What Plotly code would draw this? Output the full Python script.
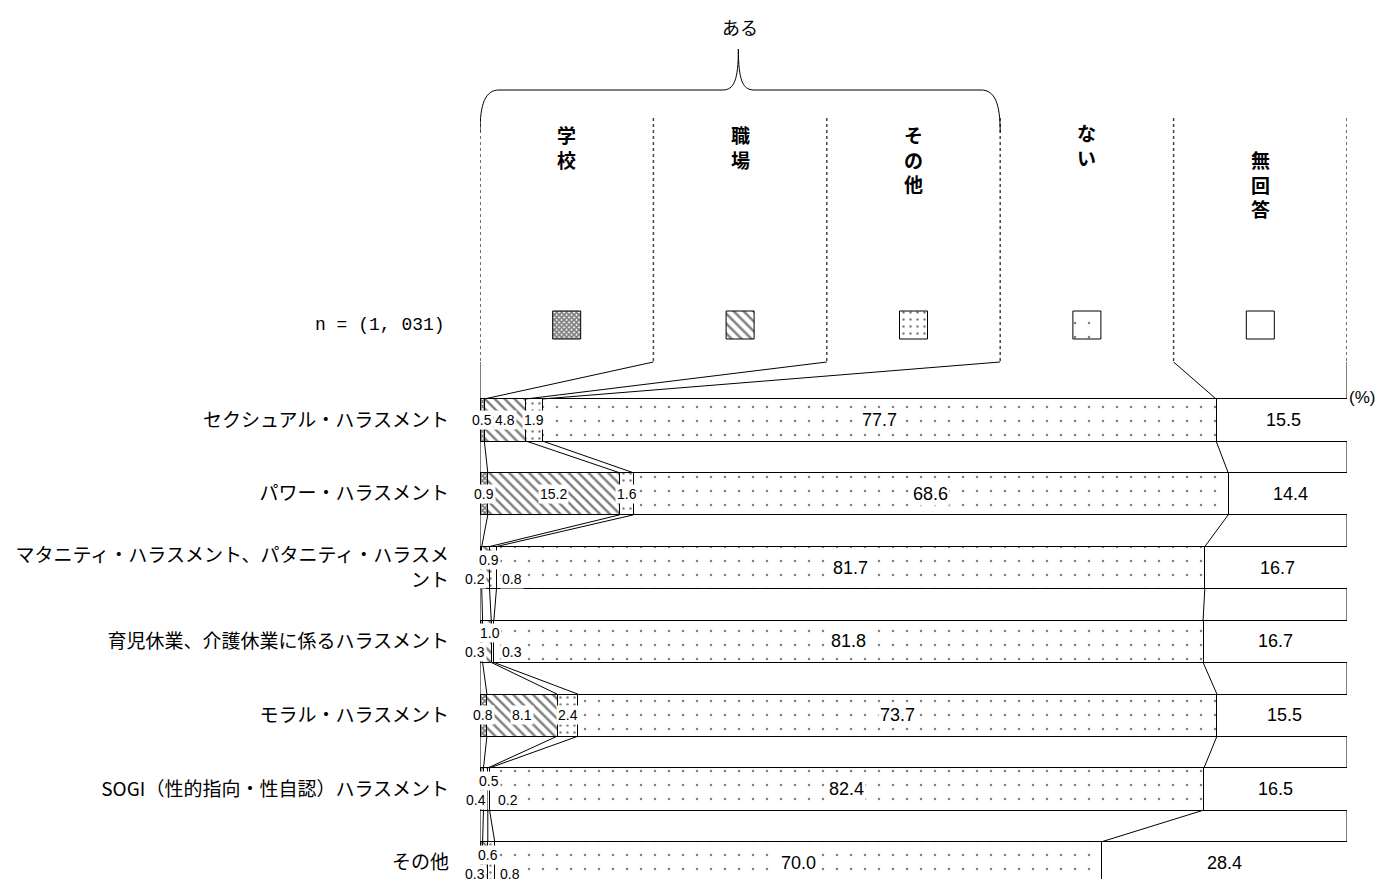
import plotly.graph_objects as go

# --- data ---
categories = [
    "セクシュアル・ハラスメント",
    "パワー・ハラスメント",
    "マタニティ・ハラスメント、パタニティ・ハラスメ<br>ント",
    "育児休業、介護休業に係るハラスメント",
    "モラル・ハラスメント",
    "SOGI（性的指向・性自認）ハラスメント",
    "その他",
]
series_names = ["学校", "職場", "その他", "ない", "無回答"]
school = [0.5, 0.9, 0.2, 0.3, 0.8, 0.4, 0.3]
workplace = [4.8, 15.2, 0.9, 1.0, 8.1, 0.5, 0.6]
other_place = [1.9, 1.6, 0.8, 0.3, 2.4, 0.2, 0.8]
none_ = [77.7, 68.6, 81.7, 81.8, 73.7, 82.4, 70.0]
no_answer = [15.5, 14.4, 16.7, 16.7, 15.5, 16.5, 28.4]
sample_label = "n = (1, 031)"
group_label = "ある"

series = [school, workplace, other_place, none_, no_answer]

# --- geometry helpers (reference pixel -> y data units) ---
OFF = 8          # page body margin of the html page
W, H = 1383 - OFF, 879 - OFF
ROW0 = 420.0     # pixel centre of first bar
ROWPX = 73.8     # pixels per category
BAR_W = 0.57
XPX = 8.67       # pixels per percent


def py(p):
    return (p - ROW0) / ROWPX


patterns = [
    dict(shape="x", size=3.5, solidity=0.75, fgcolor="black", bgcolor="white"),
    dict(shape="\\", size=7, solidity=0.35, fgcolor="black", bgcolor="white"),
    dict(shape=".", size=7, solidity=0.1, fgcolor="black", bgcolor="white"),
    dict(shape=".", size=14, solidity=0.025, fgcolor="black", bgcolor="white"),
    dict(shape="", fgcolor="black", bgcolor="white"),
]

fig = go.Figure()
ypos = list(range(len(categories)))

for name, vals, pat in zip(series_names, series, patterns):
    fig.add_trace(go.Bar(
        y=ypos, x=vals, orientation="h", name=name, width=BAR_W,
        marker=dict(color="white", line=dict(color="black", width=1), pattern=pat),
        hoverinfo="skip",
    ))

# cumulative boundaries per row
cums = []
for i in range(len(categories)):
    c = [0.0]
    for s in series:
        c.append(c[-1] + s[i])
    cums.append(c)

# series lines between consecutive bars
xs, ys = [], []
for i in range(len(categories) - 1):
    for k in range(6):
        xs += [min(cums[i][k], 100), min(cums[i + 1][k], 100), None]
        ys += [i + BAR_W / 2, i + 1 - BAR_W / 2, None]
fig.add_trace(go.Scatter(x=xs, y=ys, mode="lines", line=dict(color="black", width=1),
                         hoverinfo="skip", cliponaxis=False))

# header columns
col_x = [0, 20, 40, 60, 80, 100]
hx, hy = [], []
for x in col_x:
    hx += [x, x, None]
    hy += [py(118), py(362), None]
fig.add_trace(go.Scatter(x=hx, y=hy, mode="lines",
                         line=dict(color="#444444", width=1.5, dash="dot"),
                         hoverinfo="skip", cliponaxis=False))
cx, cy = [], []
for k, x in enumerate(col_x):
    cx += [x, min(cums[0][k], 100), None]
    cy += [py(362), -BAR_W / 2, None]
fig.add_trace(go.Scatter(x=cx, y=cy, mode="lines", line=dict(color="black", width=1),
                         hoverinfo="skip", cliponaxis=False))

# legend swatches
dx = 14 / XPX
dy = 14 / ROWPX
for j, pat in enumerate(patterns):
    xc = 10 + 20 * j
    yc = py(325)
    fig.add_trace(go.Scatter(
        x=[xc - dx, xc + dx, xc + dx, xc - dx, xc - dx],
        y=[yc - dy, yc - dy, yc + dy, yc + dy, yc - dy],
        mode="lines", fill="toself", fillcolor="white", fillpattern=dict(pat),
        line=dict(color="black", width=1), hoverinfo="skip", cliponaxis=False,
    ))

# brace over the first three columns
brace = (
    f"M 0,{py(132)} C 0,{py(104)} 0.6,{py(90)} 2.2,{py(90)} "
    f"L 28.0,{py(90)} C 29.3,{py(90)} 29.8,{py(80)} 29.8,{py(49)} "
    f"C 29.8,{py(80)} 30.3,{py(90)} 31.6,{py(90)} "
    f"L 57.8,{py(90)} C 59.4,{py(90)} 60,{py(104)} 60,{py(132)}"
)
fig.add_shape(type="path", path=brace, xref="x", yref="y",
              line=dict(color="black", width=1))

# header texts
head_tops = [119, 119, 119, 117, 144]
for j, (name, top) in enumerate(zip(series_names, head_tops)):
    fig.add_annotation(x=10 + 20 * j, y=py(top), xref="x", yref="y",
                       text="<b>" + "<br>".join(name) + "</b>", showarrow=False,
                       yanchor="top", xanchor="center",
                       font=dict(size=19, color="black", family="Noto Sans CJK JP"))
fig.add_annotation(x=30, y=py(27), xref="x", yref="y", text=group_label,
                   showarrow=False, font=dict(size=18, color="black", family="Noto Sans CJK JP"))
fig.add_annotation(x=(380 - 480) / 867, y=py(325), xref="paper", yref="y",
                   xanchor="center", text=sample_label, showarrow=False,
                   font=dict(size=18, color="black", family="Liberation Mono"))
fig.add_annotation(x=(1362 - 480) / 867, y=py(397), xref="paper", yref="y",
                   xanchor="center", text="(%)", showarrow=False,
                   font=dict(size=17, color="black", family="Liberation Sans"))

# value labels
tiny_shift = [(-6, -11), (3, 8), (19, -11)]
for i in range(len(categories)):
    row = [s[i] for s in series]
    tiny = max(row[:3]) < 2
    for k, v in enumerate(row):
        xm = cums[i][k] + v / 2
        if k >= 3:
            fig.add_annotation(x=xm, y=i, text=f"{v:.1f}", showarrow=False,
                               bgcolor="white", borderpad=1,
                               font=dict(size=18, color="black", family="Liberation Sans"))
        else:
            sx, sy = tiny_shift[k] if tiny else (0, 0)
            fig.add_annotation(x=xm, y=i, text=f"{v:.1f}", showarrow=False,
                               xshift=sx, yshift=sy, bgcolor="white", borderpad=1,
                               font=dict(size=14, color="black", family="Liberation Sans"))

fig.update_layout(
    width=W, height=H,
    barmode="stack", showlegend=False,
    margin=dict(l=480 - OFF, r=W - (480 - OFF) - 867, t=0, b=0),
    plot_bgcolor="white", paper_bgcolor="white",
    xaxis=dict(range=[0, 100], visible=False, fixedrange=True),
    yaxis=dict(range=[py(879), py(OFF)], tickvals=ypos, ticktext=categories,
               showgrid=False, zeroline=False, showline=False, ticks="",
               ticklabelstandoff=30, automargin=False,
               tickfont=dict(size=19, color="black", family="Noto Sans CJK JP")),
)

fig.write_html("out.html")
